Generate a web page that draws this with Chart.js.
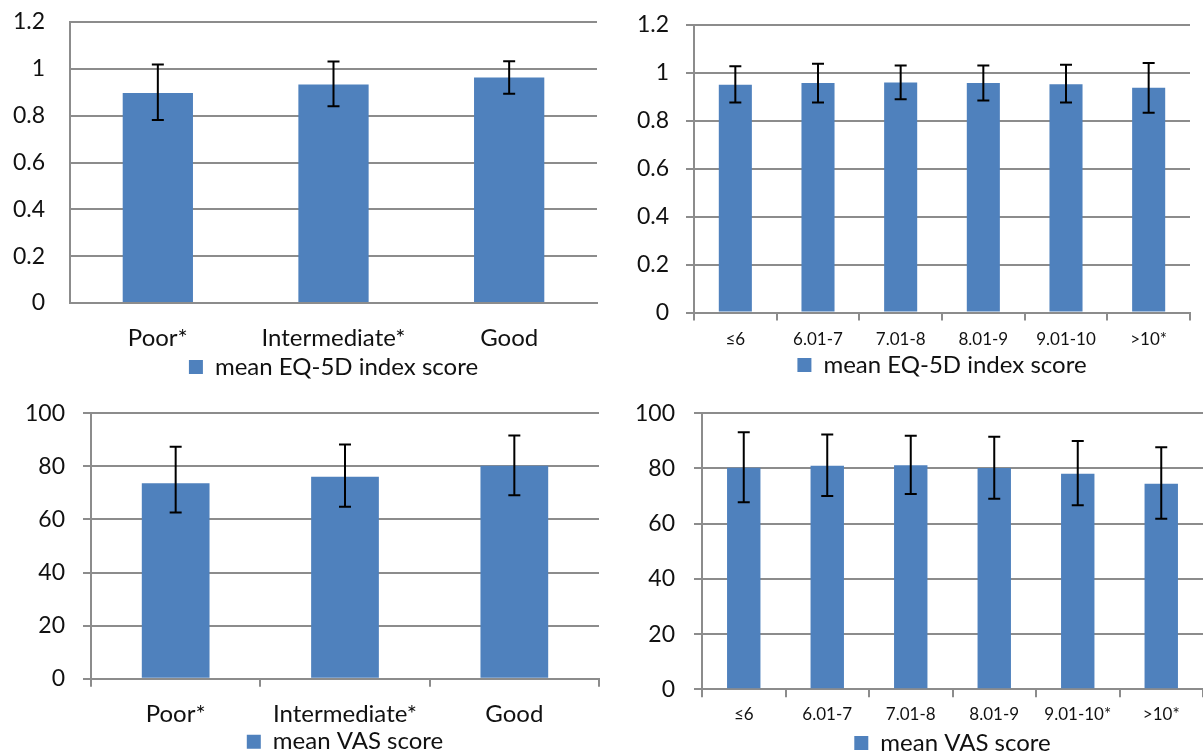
<!DOCTYPE html>
<html>
<head>
<meta charset="utf-8">
<script src="https://cdn.jsdelivr.net/npm/chart.js@4.4.1/dist/chart.umd.min.js"></script>
<style>
  body { margin: 0; background: #fff; }
  #wrap { position: relative; width: 1203px; height: 753px; overflow: hidden; }
  .panel { position: absolute; }
</style>
</head>
<body>
<div id="wrap">
  <div class="panel" style="left:0;top:0;width:600px;height:390px"><canvas id="eqQuality"></canvas></div>
  <div class="panel" style="left:600px;top:0;width:603px;height:390px"><canvas id="eqRange"></canvas></div>
  <div class="panel" style="left:0;top:380px;width:600px;height:385px"><canvas id="vasQuality"></canvas></div>
  <div class="panel" style="left:600px;top:380px;width:603px;height:386px"><canvas id="vasRange"></canvas></div>
</div>
<script>
// categories
const qualityLabels = ['Poor*', 'Intermediate*', 'Good'];
const eqRangeLabels = ['≤6', '6.01-7', '7.01-8', '8.01-9', '9.01-10', '>10*'];
const vasRangeLabels = ['≤6', '6.01-7', '7.01-8', '8.01-9', '9.01-10*', '>10*'];

// mean EQ-5D index score by quality
const eqQualityMean = [0.897, 0.933, 0.963];
const eqQualityLow = [0.781, 0.840, 0.894];
const eqQualityHigh = [1.018, 1.031, 1.032];

// mean EQ-5D index score by range
const eqRangeMean = [0.949, 0.956, 0.958, 0.956, 0.951, 0.936];
const eqRangeLow = [0.875, 0.875, 0.889, 0.883, 0.875, 0.832];
const eqRangeHigh = [1.026, 1.036, 1.029, 1.029, 1.032, 1.040];

// mean VAS score by quality
const vasQualityMean = [73.6, 76.1, 80.2];
const vasQualityLow = [62.6, 64.8, 69.1];
const vasQualityHigh = [87.4, 88.2, 91.6];

// mean VAS score by range
const vasRangeMean = [80.3, 81.0, 81.2, 80.2, 78.1, 74.5];
const vasRangeLow = [67.8, 70.0, 70.8, 69.0, 66.7, 61.8];
const vasRangeHigh = [93.1, 92.3, 91.9, 91.5, 90.0, 87.7];

// y axis ranges
const eqAxis = { max: 1.2, step: 0.2 };
const vasAxis = { max: 100, step: 20 };

Chart.defaults.font.family = 'Lato, "Noto Sans", sans-serif';

const gridGrey = '#8c8c8c';

const errorBars = {
    id: 'errorBars',
    afterDatasetsDraw(chart, args, opts) {
        const meta = chart.getDatasetMeta(0);
        const y = chart.scales.y;
        const ctx = chart.ctx;
        ctx.save();
        ctx.strokeStyle = '#000';
        ctx.lineWidth = 2;
        meta.data.forEach((bar, i) => {
            const top = y.getPixelForValue(opts.high[i]);
            const bottom = y.getPixelForValue(opts.low[i]);
            ctx.beginPath();
            ctx.moveTo(bar.x, top);
            ctx.lineTo(bar.x, bottom);
            ctx.moveTo(bar.x - 6, top);
            ctx.lineTo(bar.x + 6, top);
            ctx.moveTo(bar.x - 6, bottom);
            ctx.lineTo(bar.x + 6, bottom);
            ctx.stroke();
        });
        ctx.restore();
    }
};

function barConfig(labels, values, low, high, axis, legendText, lay) {
    return {
        type: 'bar',
        data: {
            labels: labels,
            datasets: [{
                label: legendText,
                data: values,
                backgroundColor: '#4F81BD',
                barPercentage: 0.4,
                categoryPercentage: 1
            }]
        },
        options: {
            responsive: true,
            maintainAspectRatio: false,
            animation: false,
            layout: { padding: { top: lay.top, right: lay.right, bottom: lay.bottom, left: 0 } },
            plugins: {
                legend: {
                    position: 'bottom',
                    fullSize: false,
                    labels: { boxWidth: 14, boxHeight: 14, padding: lay.legendPad, color: '#111', font: { size: 24 } }
                },
                tooltip: { enabled: false },
                errorBars: { low: low, high: high }
            },
            scales: {
                x: {
                    grid: { display: lay.ticks, drawOnChartArea: false, tickLength: 8, color: gridGrey, lineWidth: 2 },
                    border: { color: gridGrey, width: 2 },
                    ticks: { color: '#111', font: { size: lay.xFont }, padding: lay.xPad, maxRotation: 0, autoSkip: false },
                    afterFit: s => { s.height = lay.xHeight; }
                },
                y: {
                    min: 0,
                    max: axis.max,
                    ticks: { stepSize: axis.step, color: '#111', font: { size: 23 }, padding: lay.yPad, callback: v => +v.toFixed(1) },
                    grid: { color: gridGrey, lineWidth: 2, drawTicks: lay.ticks, tickLength: 8 },
                    border: { color: gridGrey, width: 2 },
                    afterFit: s => {
                        s.width = lay.yWidth;
                        s.paddingTop = 0;
                        s.paddingBottom = 0;
                    }
                }
            }
        },
        plugins: [errorBars]
    };
}

new Chart('eqQuality', barConfig(qualityLabels, eqQualityMean, eqQualityLow, eqQualityHigh, eqAxis,
    'mean EQ-5D index score',
    { top: 22, right: 3, bottom: 1, yWidth: 70, yPad: 25, ticks: false, xFont: 24, xPad: 13, xHeight: 50, legendPad: 2 }));

new Chart('eqRange', barConfig(eqRangeLabels, eqRangeMean, eqRangeLow, eqRangeHigh, eqAxis,
    'mean EQ-5D index score',
    { top: 24.5, right: 13, bottom: 3, yWidth: 94, yPad: 17, ticks: true, xFont: 17, xPad: 9, xHeight: 38, legendPad: 2.5 }));

new Chart('vasQuality', barConfig(qualityLabels, vasQualityMean, vasQualityLow, vasQualityHigh, vasAxis,
    'mean VAS score',
    { top: 33.3, right: 1, bottom: 1.3, yWidth: 91, yPad: 18, ticks: true, xFont: 24, xPad: 13, xHeight: 49, legendPad: 2 }));

new Chart('vasRange', barConfig(vasRangeLabels, vasRangeMean, vasRangeLow, vasRangeHigh, vasAxis,
    'mean VAS score',
    { top: 33.3, right: 0, bottom: 1, yWidth: 102, yPad: 19, ticks: true, xFont: 17, xPad: 7, xHeight: 40, legendPad: 1.7 }));
</script>
</body>
</html>
